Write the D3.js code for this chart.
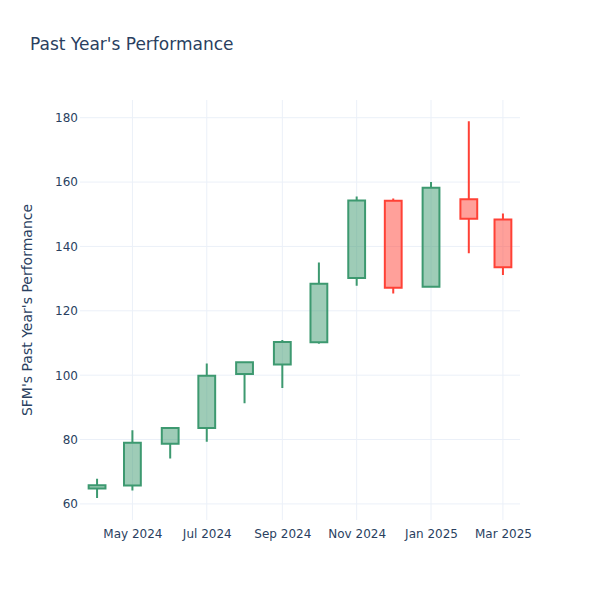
<!DOCTYPE html>
<html>
<head>
	<meta charset="utf-8">
	<script src="https://d3js.org/d3.v7.min.js"></script>
	<title>Past Year's Performance</title>
	<style>
		body { margin: 0; background: #fff; }
		text { font-family: "DejaVu Sans", Verdana, sans-serif; fill: #2a3f5f; }
	</style>
</head>
<body>
	<div id="chart"></div>
	<script>
		// monthly candles
		let dates = ["2024-04-02", "2024-05-01", "2024-06-01", "2024-07-01", "2024-08-01", "2024-09-01",
			"2024-10-01", "2024-11-01", "2024-12-01", "2025-01-01", "2025-02-01", "2025-03-01"];
		let opens  = [64.8, 65.7, 78.7, 83.6, 100.4, 103.3, 110.2, 130.2, 154.2, 127.5, 154.7, 148.4];
		let highs  = [67.8, 82.9, 83.8, 103.6, 104.2, 110.9, 135.0, 155.5, 154.9, 160.0, 178.9, 150.2];
		let lows   = [61.8, 64.2, 74.1, 79.3, 91.3, 96.0, 109.8, 127.8, 125.4, 127.3, 137.9, 131.1];
		let closes = [65.8, 79.0, 83.6, 99.8, 104.0, 110.3, 128.4, 154.3, 127.2, 158.2, 148.6, 133.5];

		let yTicks = [60, 80, 100, 120, 140, 160, 180];
		let xTicks = ["2024-05-01", "2024-07-01", "2024-09-01", "2024-11-01", "2025-01-01", "2025-03-01"];

		let W = 600, H = 600;
		let margin = { top: 100, right: 80, bottom: 80, left: 80 },
			width = W - margin.left - margin.right,
			height = H - margin.top - margin.bottom;

		let parse = d3.utcParse("%Y-%m-%d");

		let svg = d3.select("#chart").append("svg")
			.attr("width", W).attr("height", H);

		svg.append("text")
			.attr("x", 30).attr("y", 50)
			.style("font-size", "17px")
			.text("Past Year's Performance");

		let g = svg.append("g").attr("transform", "translate(" + margin.left + "," + margin.top + ")");

		let x = d3.scaleUtc()
			.domain([parse("2024-03-19"), parse("2025-03-15")])
			.range([0, width]);

		let y = d3.scaleLinear().domain([55.0, 185.5]).range([height, 0]);

		// grid
		g.append("g").selectAll("line").data(yTicks).enter().append("line")
			.attr("x1", 0).attr("x2", width)
			.attr("y1", d => y(d)).attr("y2", d => y(d))
			.attr("stroke", "#ebf0f8").attr("stroke-width", 1);

		g.append("g").selectAll("line").data(xTicks).enter().append("line")
			.attr("x1", d => x(parse(d))).attr("x2", d => x(parse(d)))
			.attr("y1", 0).attr("y2", height)
			.attr("stroke", "#ebf0f8").attr("stroke-width", 1);

		// axes
		let yAxis = g.append("g")
			.call(d3.axisLeft(y).tickValues(yTicks).tickSize(0).tickPadding(2));
		yAxis.select(".domain").remove();
		yAxis.selectAll("text").style("font-size", "12px").attr("fill", "#2a3f5f");

		let xAxis = g.append("g")
			.attr("transform", "translate(0," + height + ")")
			.call(d3.axisBottom(x).tickValues(xTicks.map(parse)).tickFormat(d3.utcFormat("%b %Y")).tickSize(0).tickPadding(9));
		xAxis.select(".domain").remove();
		xAxis.selectAll("text").style("font-size", "12px").attr("fill", "#2a3f5f");

		svg.append("text")
			.attr("transform", "translate(32," + (margin.top + height / 2) + ") rotate(-90)")
			.attr("text-anchor", "middle")
			.style("font-size", "14px")
			.text("SFM's Past Year's Performance");

		// candles
		let hw = (x(parse("2024-05-01")) - x(parse("2024-04-01"))) * 0.23;
		let candles = dates.map((d, i) => ({ date: parse(d), o: opens[i], h: highs[i], l: lows[i], c: closes[i] }));

		g.append("g").selectAll("path").data(candles).enter().append("path")
			.attr("d", function (d) {
				let cx = x(d.date);
				let top = y(Math.max(d.o, d.c)), bot = y(Math.min(d.o, d.c));
				return "M" + (cx - hw) + "," + top + "H" + (cx + hw) + "V" + bot + "H" + (cx - hw) + "Z" +
					"M" + cx + "," + top + "V" + y(d.h) +
					"M" + cx + "," + bot + "V" + y(d.l);
			})
			.attr("fill", d => d.c >= d.o ? "rgba(61,153,112,0.5)" : "rgba(255,65,54,0.5)")
			.attr("stroke", d => d.c >= d.o ? "#3D9970" : "#FF4136")
			.attr("stroke-width", 2);
	</script>
</body>
</html>
